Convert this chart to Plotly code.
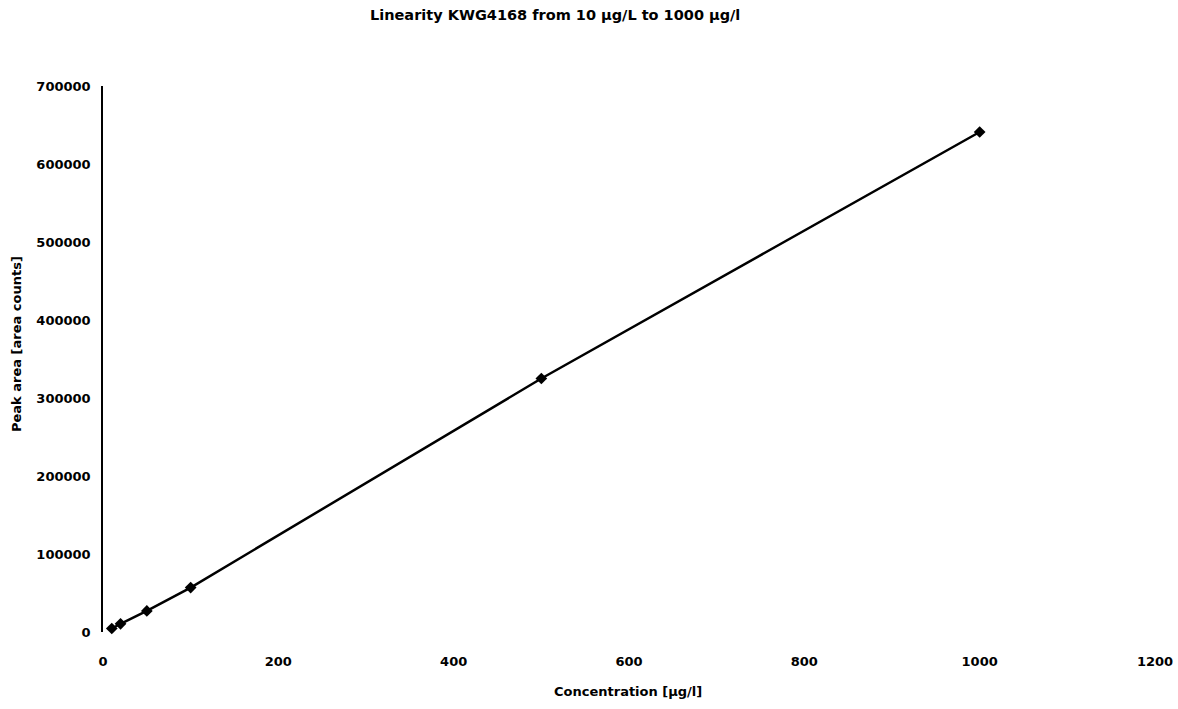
import plotly.graph_objects as go

concentration = [10, 20, 50, 100, 500, 1000]
peak_area = [4500, 10500, 27000, 57000, 325000, 641000]

x_ticks = [0, 200, 400, 600, 800, 1000, 1200]
y_ticks = [0, 100000, 200000, 300000, 400000, 500000, 600000, 700000]

title_text = "Linearity KWG4168 from 10 µg/L to 1000 µg/l"
x_title = "Concentration [µg/l]"
y_title = "Peak area [area counts]"

FONT = "DejaVu Sans"

W, H = 1178, 709
l, r, t, b = 103, 23, 86, 77

fig = go.Figure()
fig.add_trace(go.Scatter(
    x=concentration, y=peak_area, mode="lines+markers",
    line=dict(color="black", width=2.5),
    marker=dict(symbol="diamond", size=9, color="black"),
    cliponaxis=False, showlegend=False,
))


def ann(text, px, py, size, angle=0):
    # px, py: position in page pixels
    return dict(text=text, xref="paper", yref="paper",
                x=(px - l) / (W - l - r), y=(H - b - py) / (H - t - b),
                showarrow=False, textangle=angle,
                font=dict(family=FONT, size=size, weight="bold", color="black"),
                xanchor="center", yanchor="middle")


fig.update_layout(
    width=W, height=H,
    margin=dict(l=l, r=r, t=t, b=b, autoexpand=False),
    paper_bgcolor="white", plot_bgcolor="white",
    font=dict(family=FONT, size=12, color="black", weight="bold"),
    xaxis=dict(range=[0, 1200], tickvals=x_ticks, ticktext=[str(v) for v in x_ticks],
               showgrid=False, zeroline=False, showline=False, automargin=False,
               ticks="outside", ticklen=17, tickcolor="rgba(0,0,0,0)",
               ticklabeloverflow="allow",
               tickfont=dict(family=FONT, size=13, weight="bold")),
    yaxis=dict(range=[0, 700000], tickvals=y_ticks, ticktext=[str(v) for v in y_ticks],
               showgrid=False, zeroline=False, showline=True, linecolor="black", linewidth=1.5,
               automargin=False, ticks="", ticklabelstandoff=8,
               tickfont=dict(family=FONT, size=13, weight="bold")),
    annotations=[
        ann(title_text, 555, 15, 14.5),
        ann(x_title, 628, 691, 13),
        ann(y_title, 16, 344, 13, -90),
    ],
)

fig.write_html("out.html", config={"displayModeBar": False},
               post_script="document.body.style.margin='0';document.body.style.overflow='hidden';")
